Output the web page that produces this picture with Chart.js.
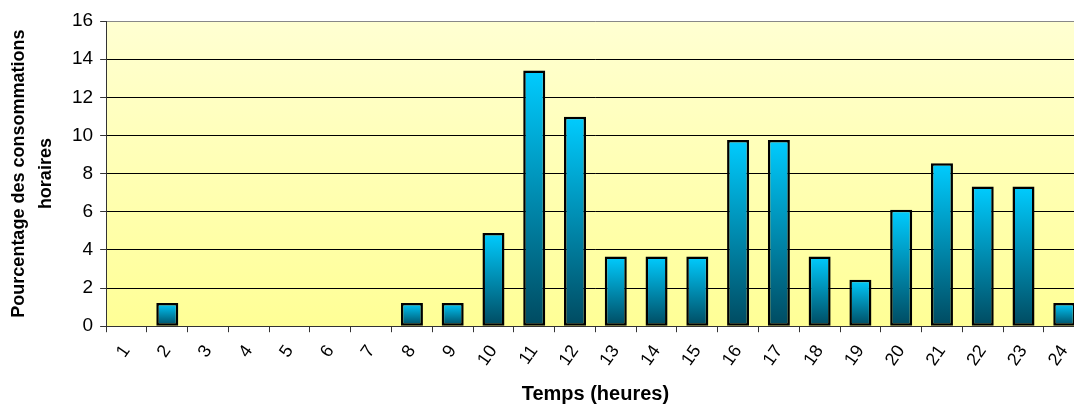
<!DOCTYPE html>
<html>
<head>
<meta charset="utf-8">
<script src="https://cdn.jsdelivr.net/npm/chart.js@4/dist/chart.umd.min.js"></script>
<style>
  html, body { margin: 0; padding: 0; background: #fff; overflow: hidden; }
  #wrap { width: 1091px; height: 410px; }
</style>
</head>
<body>
<div id="wrap"><canvas id="myChart"></canvas></div>
<script>
const hours = ['1','2','3','4','5','6','7','8','9','10','11','12','13','14','15','16','17','18','19','20','21','22','23','24'];
const percentages = [0, 1.22, 0, 0, 0, 0, 0, 1.22, 1.22, 4.88, 13.41, 10.98, 3.66, 3.66, 3.66, 9.76, 9.76, 3.66, 2.44, 6.10, 8.54, 7.32, 7.32, 1.22];
const yTitle = ['Pourcentage des consommations', 'horaires'];
const xTitle = 'Temps (heures)';

// yellow gradient behind the plot
const plotBackground = {
    id: 'plotBackground',
    beforeDraw(chart) {
        const a = chart.chartArea;
        const c = chart.ctx;
        const g = c.createLinearGradient(0, a.top, 0, a.bottom);
        g.addColorStop(0, '#FFFFD2');
        g.addColorStop(1, '#FFFF96');
        c.save();
        c.fillStyle = g;
        c.fillRect(a.left, a.top, a.right - a.left, a.bottom - a.top);
        c.restore();
    }
};

function barGradient(context) {
    const chart = context.chart;
    const y = chart.scales.y;
    if (!chart.chartArea || !y || context.parsed === undefined) return '#00B0E0';
    const top = y.getPixelForValue(context.parsed.y);
    const base = y.getPixelForValue(0);
    if (!isFinite(top) || Math.abs(base - top) < 1) return '#00B0E0';
    const g = chart.ctx.createLinearGradient(0, top, 0, base);
    g.addColorStop(0, '#00CCFF');
    g.addColorStop(1, '#004A60');
    return g;
}

const ctx = document.getElementById('myChart').getContext('2d');
const myChart = new Chart(ctx, {
    type: 'bar',
    data: {
        labels: hours,
        datasets: [{
            data: percentages,
            backgroundColor: barGradient,
            borderColor: '#000',
            borderWidth: 2.5,
            borderSkipped: false,
            categoryPercentage: 1,
            barPercentage: 0.54
        }]
    },
    options: {
        responsive: true,
        maintainAspectRatio: false,
        animation: false,
        layout: { padding: { top: 21, right: 2, left: 6, bottom: 4 } },
        scales: {
            x: {
                grid: {
                    offset: true,
                    drawOnChartArea: false,
                    drawTicks: true,
                    tickLength: 6,
                    color: '#333'
                },
                border: { color: '#333', width: 1 },
                ticks: {
                    minRotation: 55,
                    maxRotation: 55,
                    color: '#000',
                    font: { family: 'Liberation Sans', size: 18 },
                    padding: 9
                },
                title: {
                    display: true,
                    text: xTitle,
                    color: '#000',
                    font: { family: 'Liberation Sans', size: 20, weight: 'bold' },
                    padding: { top: 3, bottom: 0 }
                }
            },
            y: {
                min: 0,
                max: 16,
                ticks: {
                    stepSize: 2,
                    color: '#000',
                    font: { family: 'Liberation Sans', size: 19 },
                    padding: 7
                },
                grid: {
                    color: ctx => ctx.tick && ctx.tick.value === 16 ? '#888' : '#000',
                    lineWidth: 1,
                    tickLength: 6,
                    tickColor: '#333'
                },
                border: { color: '#333', width: 1 },
                title: {
                    display: true,
                    text: yTitle,
                    color: '#000',
                    font: { family: 'Liberation Sans', size: 18, weight: 'bold', lineHeight: 1.5 },
                    padding: { top: 0, bottom: 5 }
                }
            }
        },
        plugins: {
            legend: { display: false },
            tooltip: { enabled: false }
        }
    },
    plugins: [plotBackground]
});
</script>
</body>
</html>
